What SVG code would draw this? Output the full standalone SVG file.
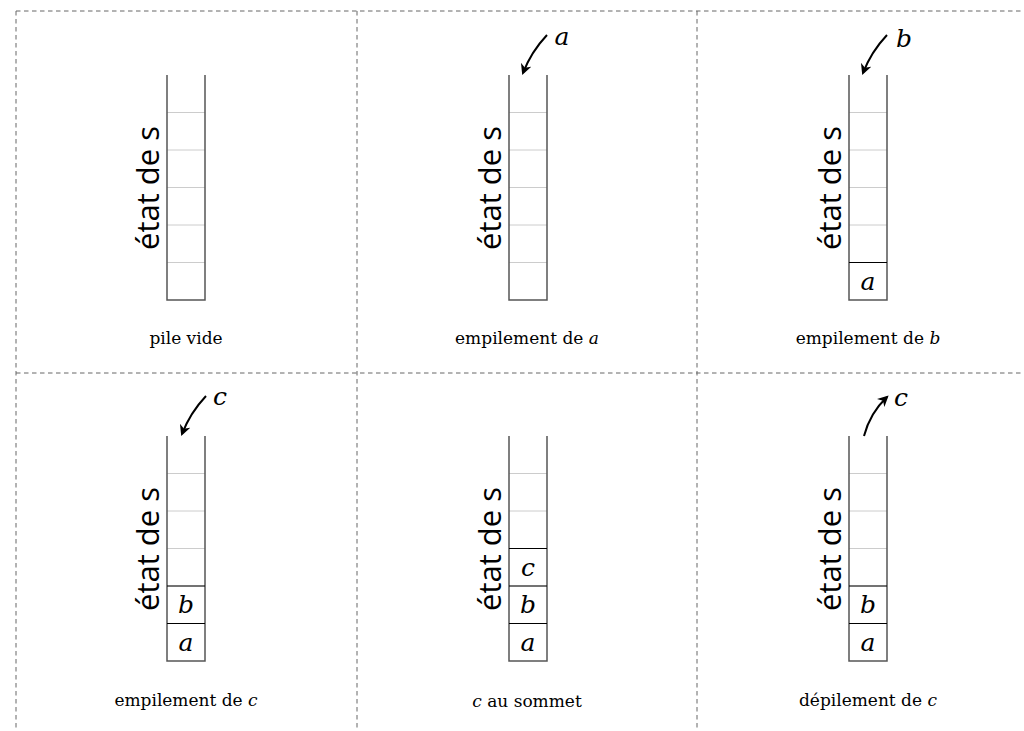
<svg xmlns="http://www.w3.org/2000/svg" width="1024" height="731" viewBox="0 0 1024 731">
<style>
.dash{stroke:#666;stroke-width:1;stroke-dasharray:4.5 3.5;fill:none}
.wall{stroke:#555;stroke-width:1.5;fill:none}
.cell{stroke:#ccc;stroke-width:1}
.full{stroke:#000;stroke-width:1}
.rot{font-family:"Open Sans","Noto Sans",sans-serif;font-size:31px;fill:#000;text-anchor:middle}
.lab{font-family:"DejaVu Serif",serif;font-size:17px;fill:#000;text-anchor:middle}
.it{font-family:"DejaVu Serif",serif;font-style:italic}
.val{font-family:"DejaVu Serif",serif;font-style:italic;font-size:25px;fill:#000;text-anchor:middle}
.arr{stroke:#000;stroke-width:2;fill:none;marker-end:url(#ah)}
</style>
<defs>
<marker id="ah" viewBox="0 0 10 10" refX="8" refY="5" markerWidth="11" markerHeight="11" markerUnits="userSpaceOnUse" orient="auto">
<path d="M0,0 L10,5 L0,10 L3,5 Z" fill="#000"/>
</marker>
<g id="stack">
<line class="cell" x1="0" y1="37.5" x2="38" y2="37.5"/>
<line class="cell" x1="0" y1="75" x2="38" y2="75"/>
<line class="cell" x1="0" y1="112.5" x2="38" y2="112.5"/>
<line class="cell" x1="0" y1="150" x2="38" y2="150"/>
<line class="cell" x1="0" y1="187.5" x2="38" y2="187.5"/>
<path class="wall" d="M0,0 V225 H38 V0"/>
</g>
</defs>
<rect width="1024" height="731" fill="#fff"/>
<g id="grid">
<line class="dash" x1="16" y1="11" x2="1024" y2="11"/>
<line class="dash" x1="16" y1="373" x2="1024" y2="373"/>
<line class="dash" x1="16" y1="11" x2="16" y2="731"/>
<line class="dash" x1="357" y1="11" x2="357" y2="731"/>
<line class="dash" x1="697" y1="11" x2="697" y2="731"/>
</g>
<g id="n1">
<use href="#stack" x="167" y="75"/>
<text class="rot" transform="translate(159,188) rotate(-90)">état de s</text>
<text class="lab" x="186" y="344">pile vide</text>
</g>
<g id="n2">
<use href="#stack" x="509" y="75"/>
<text class="rot" transform="translate(501,188) rotate(-90)">état de s</text>
<text class="lab" x="527" y="344">empilement de <tspan class="it">a</tspan></text>
<text class="val" x="562" y="45">a</text>
</g>
<g id="n3">
<use href="#stack" x="849" y="75"/>
<line class="full" x1="849" y1="262.5" x2="887" y2="262.5"/>
<text class="val" x="868" y="290">a</text>
<text class="rot" transform="translate(841,188) rotate(-90)">état de s</text>
<text class="lab" x="868" y="344">empilement de <tspan class="it">b</tspan></text>
<text class="val" x="904" y="47">b</text>
</g>
<g id="n4">
<use href="#stack" x="167" y="436"/>
<line class="full" x1="167" y1="586" x2="205" y2="586"/>
<line class="full" x1="167" y1="623.5" x2="205" y2="623.5"/>
<text class="val" x="186" y="613">b</text>
<text class="val" x="186" y="651">a</text>
<text class="rot" transform="translate(159,549) rotate(-90)">état de s</text>
<text class="lab" x="186" y="706">empilement de <tspan class="it">c</tspan></text>
<text class="val" x="220" y="405">c</text>
</g>
<g id="n5">
<use href="#stack" x="509" y="436"/>
<line class="full" x1="509" y1="548.5" x2="547" y2="548.5"/>
<line class="full" x1="509" y1="586" x2="547" y2="586"/>
<line class="full" x1="509" y1="623.5" x2="547" y2="623.5"/>
<text class="val" x="528" y="576">c</text>
<text class="val" x="528" y="613">b</text>
<text class="val" x="528" y="651">a</text>
<text class="rot" transform="translate(501,549) rotate(-90)">état de s</text>
<text class="lab" x="527" y="707"><tspan class="it">c</tspan> au sommet</text>
</g>
<g id="n6">
<use href="#stack" x="849" y="436"/>
<line class="full" x1="849" y1="586" x2="887" y2="586"/>
<line class="full" x1="849" y1="623.5" x2="887" y2="623.5"/>
<text class="val" x="868" y="613">b</text>
<text class="val" x="868" y="651">a</text>
<text class="rot" transform="translate(841,549) rotate(-90)">état de s</text>
<text class="lab" x="868" y="706">dépilement de <tspan class="it">c</tspan></text>
<text class="val" x="901" y="406">c</text>
</g>
<g id="connectors">
<path class="arr" d="M547,35 Q531,52 523,73"/>
<path class="arr" d="M887,35 Q871,52 863,73"/>
<path class="arr" d="M206,396 Q190,413 182,434"/>
<path class="arr" d="M864,436 Q870,413 887,397"/>
</g>
</svg>
